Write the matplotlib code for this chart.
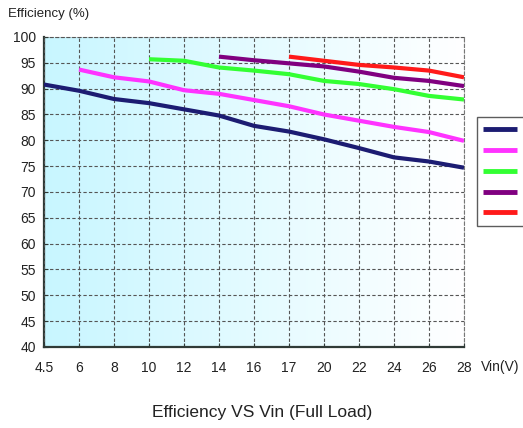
import numpy as np
import matplotlib
matplotlib.use('Agg')
import matplotlib.pyplot as plt
from matplotlib.colors import LinearSegmentedColormap

plt.rcParams['font.family'] = ['Liberation Sans', 'DejaVu Sans']

# input voltage categories (equally spaced on the chart)
vin_labels = ['4.5', '6', '8', '10', '12', '14', '16', '17', '20', '22', '24', '26', '28']

# efficiency curves, each starts at its own minimum Vin
eff_a = [90.8, 89.6, 88.0, 87.2, 86.0, 84.8, 82.8, 81.7, 80.2, 78.5, 76.7, 75.9, 74.7]
eff_b = [93.7, 92.2, 91.4, 89.7, 89.0, 87.8, 86.6, 85.0, 83.8, 82.6, 81.6, 79.9]
eff_c = [95.7, 95.4, 94.1, 93.5, 92.8, 91.5, 90.9, 89.9, 88.6, 87.9]
eff_d = [96.2, 95.5, 94.9, 94.3, 93.3, 92.1, 91.5, 90.5]
eff_e = [96.2, 95.4, 94.6, 94.1, 93.5, 92.2]

colors = ['#1c1c72', '#ff33ff', '#33ff33', '#800080', '#ff1a1a']
curves = [eff_a, eff_b, eff_c, eff_d, eff_e]

fig = plt.figure(figsize=(5.23, 4.28), dpi=100)
ax = fig.add_axes([44/523, 1 - 347/428, 420/523, 310/428])

# light cyan to white background gradient
cmap = LinearSegmentedColormap.from_list('bg', ['#c8f6ff', '#e4fbff', '#ffffff'])
grad = np.linspace(0, 1, 256).reshape(1, -1)
ax.imshow(grad, cmap=cmap, aspect='auto', extent=(0, 1, 0, 1),
          transform=ax.transAxes, zorder=0)

n = len(vin_labels)
handles = []
for vals, color in zip(curves, colors):
    x = np.arange(n - len(vals), n)
    h, = ax.plot(x, vals, color=color, lw=3, zorder=3, solid_capstyle='butt')
    handles.append(h)

ax.set_xlim(0, n - 1)
ax.set_ylim(40, 100)
ax.set_xticks(np.arange(n))
ax.set_xticklabels(vin_labels)
ax.set_yticks(np.arange(40, 101, 5))

ax.grid(True, color='#555555', linestyle=(0, (3, 2)), linewidth=0.8, zorder=1)
ax.set_axisbelow(False)
for s in ['top', 'right']:
    ax.spines[s].set_color('#777777')
    ax.spines[s].set_linestyle((0, (3, 2)))
    ax.spines[s].set_linewidth(0.8)
for s in ['left', 'bottom']:
    ax.spines[s].set_color('#2f3a36')
    ax.spines[s].set_linewidth(1.6)

ax.tick_params(axis='both', direction='in', length=3, color='#2f3a36',
               labelsize=10, labelcolor='#222222')
ax.tick_params(axis='x', pad=10)
ax.tick_params(axis='y', pad=6)

fig.text(8/523, 1 - 14/428, 'Efficiency (%)', fontsize=9.5, color='#222222',
         ha='left', va='center')
fig.text(481/523, 1 - 367/428, 'Vin(V)', fontsize=10, color='#222222',
         ha='left', va='center')
fig.text(262/523, 1 - 413/428, 'Efficiency VS Vin (Full Load)', fontsize=12.5,
         color='#222222', ha='center', va='center')

# legend runs off the right edge in the original, its labels are not visible
leg = fig.legend(handles, [' '] * len(handles), loc='upper left',
                 bbox_to_anchor=(477/523, 1 - 117/428), borderaxespad=0,
                 fontsize=10, frameon=True, fancybox=False, handlelength=2.5,
                 labelspacing=0.5, borderpad=0.4, handletextpad=1.2)
leg.get_frame().set_edgecolor('#333333')
leg.get_frame().set_linewidth(1.0)
for lh in leg.get_lines():
    lh.set_linewidth(3.5)

fig.savefig('out.png', dpi=100)
